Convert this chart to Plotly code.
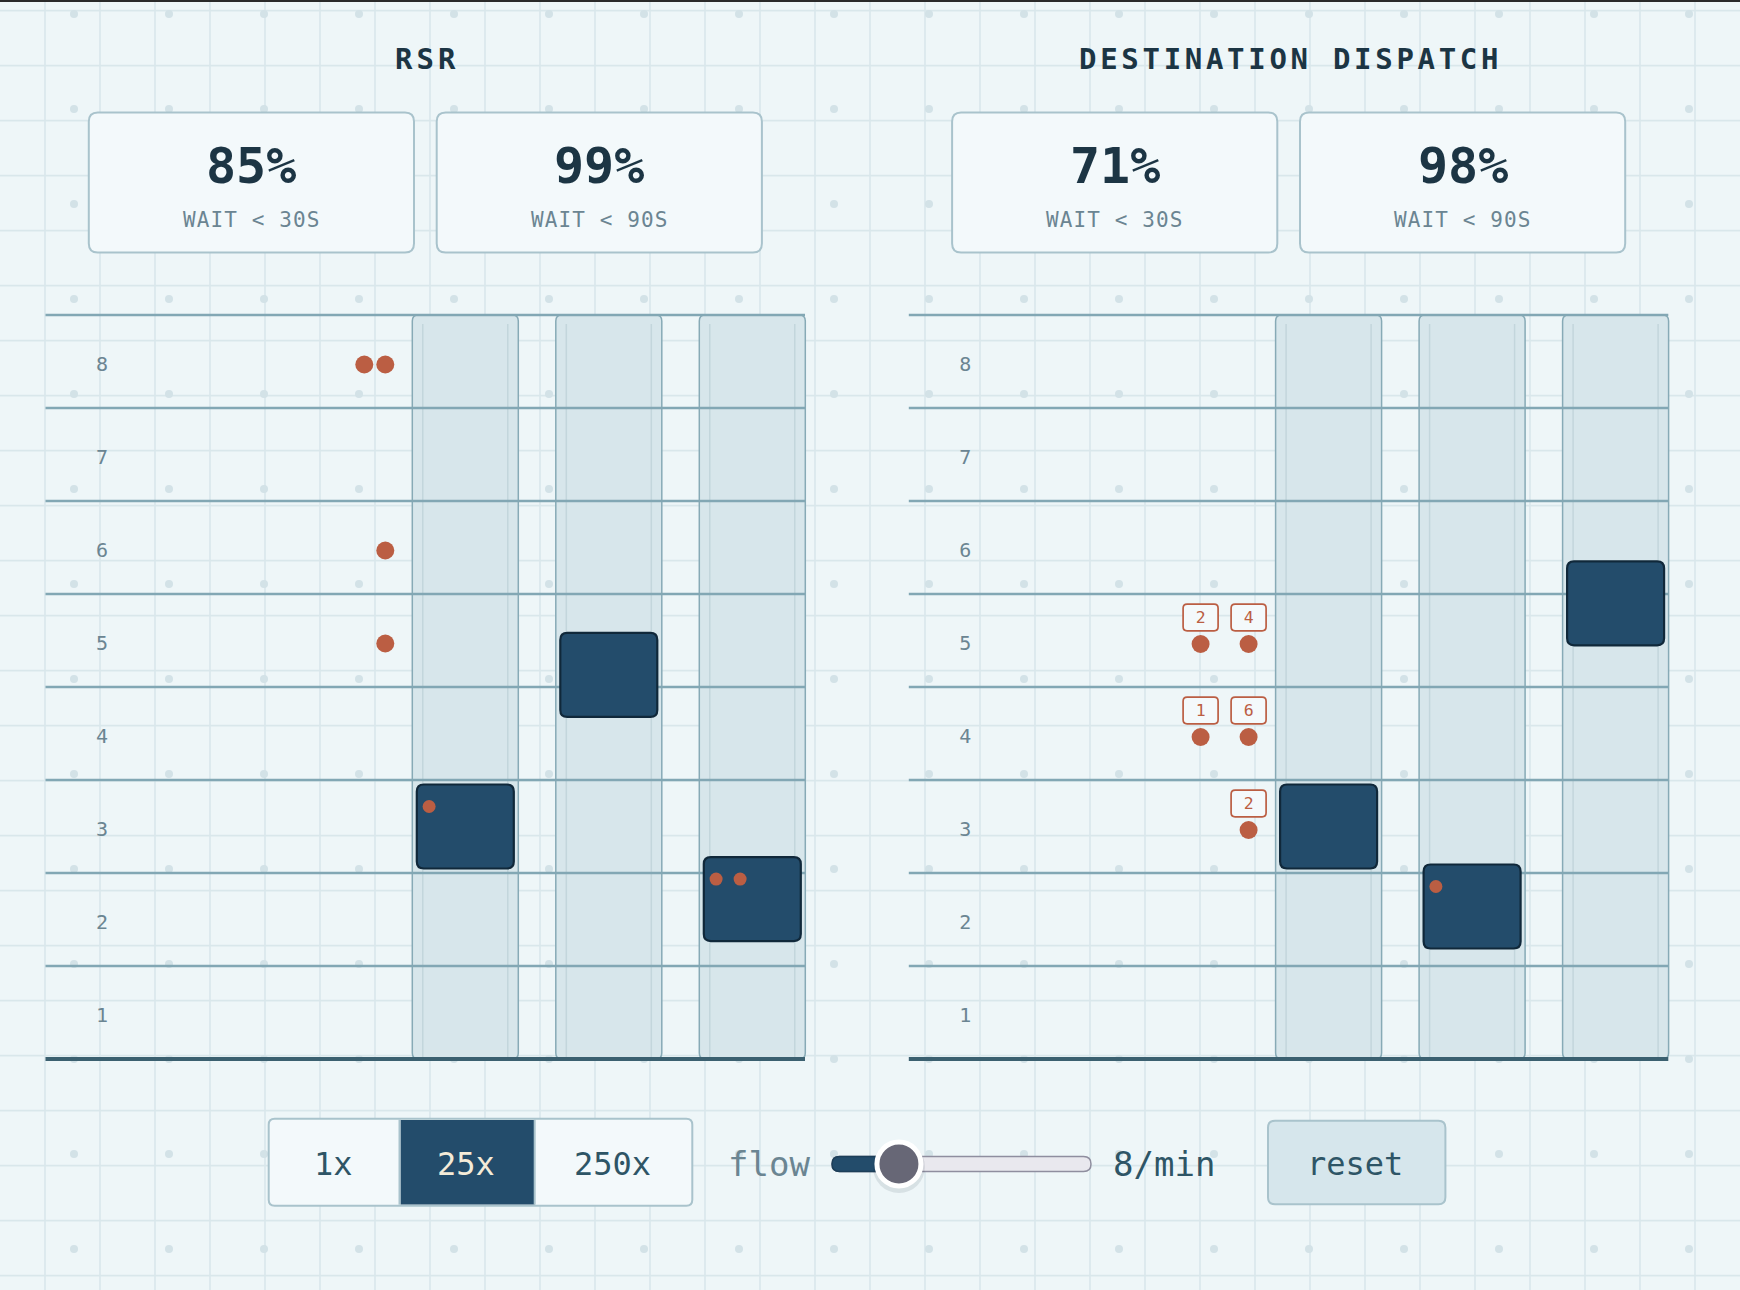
import plotly.graph_objects as go

# === Data ===
floors = [1, 2, 3, 4, 5, 6, 7, 8]
shafts = [1, 2, 3]

panel_titles = ["RSR", "DESTINATION DISPATCH"]
rsr_pct = [85, 99]
dd_pct = [71, 98]
wait_limits = [30, 90]

# car position in floors (fractional = between floors), riders inside
rsr_car_floor = [3.0, 4.63, 2.22]
rsr_car_riders = [1, 0, 2]
dd_car_floor = [3.0, 2.14, 5.40]
dd_car_riders = [0, 1, 0]

# waiting passengers
rsr_wait_floor = [8, 6, 5]
rsr_wait_count = [2, 1, 1]
dd_wait_floor = [5, 5, 4, 4, 3]
dd_wait_dest = [2, 4, 1, 6, 2]

speed_options = ["1x", "25x", "250x"]
speed_active = "25x"
flow_rate = 8
flow_min, flow_max = 2, 30

# === Style / layout ===
W, H = 1740, 1290
BG = "#eef6f8"
INK = "#1c3544"
MUTED = "#6b8592"
TEXT = "#2e5566"
NAVY = "#234c6b"
ORANGE = "#bb5e43"
BOX_FILL = "#f3f9fb"
BOX_LINE = "#a9c3cc"
FONT = "DejaVu Sans Mono"

PX_X = 143.5   # px per shaft pitch
PX_Y = 93.0    # px per floor
PANEL_LEFT = [45.5, 908.8]
PANEL_W = 759.5
B_TOP, B_BOT = 315, 1059
X_MIN = 1 - (465.3 - 45.5) / PX_X
X_MAX = X_MIN + PANEL_W / PX_X
PAD = 20


def fx(px):
    return px / W


def fy(py):
    return 1 - py / H


def rrect(x0, y0, x1, y1, rx, ry):
    return (f"M{x0 + rx},{y0} L{x1 - rx},{y0} Q{x1},{y0} {x1},{y0 + ry} "
            f"L{x1},{y1 - ry} Q{x1},{y1} {x1 - rx},{y1} L{x0 + rx},{y1} "
            f"Q{x0},{y1} {x0},{y1 - ry} L{x0},{y0 + ry} Q{x0},{y0} {x0 + rx},{y0} Z")


def spaced(txt, px):
    return f'<span style="letter-spacing:{px}px">{txt}</span>'


fig = go.Figure()
shapes = []
annotations = []

# === Background grid (pixel subplot) ===
px_ref = dict(xref="x", yref="y", layer="below")
gx = -10
while gx <= W:
    shapes.append(dict(type="line", x0=gx, x1=gx, y0=0, y1=H,
                       line=dict(color="#d9e7eb", width=1.6), **px_ref))
    gx += 55
gy = 10.7
while gy <= H:
    shapes.append(dict(type="line", x0=0, x1=W, y0=gy, y1=gy,
                       line=dict(color="#d9e7eb", width=1.8), **px_ref))
    gy += 55
dx = -21
while dx <= W + 10:
    dy = 14
    while dy <= H + 10:
        shapes.append(dict(type="circle", x0=dx - 4, x1=dx + 4, y0=dy - 4, y1=dy + 4,
                           fillcolor="#d3e2e7", line=dict(width=0), **px_ref))
        dy += 95
    dx += 95
shapes.append(dict(type="line", x0=0, x1=W, y0=1, y1=1,
                   line=dict(color="#2a2a2a", width=2), **px_ref))

fig.add_trace(go.Scatter(x=[None], y=[None], xaxis="x", yaxis="y", hoverinfo="skip"))

# === Titles and stat cards ===
title_spacing = [4, 3.7]
for p, (title, pcts) in enumerate(zip(panel_titles, [rsr_pct, dd_pct])):
    left = PANEL_LEFT[p]
    annotations.append(dict(x=left + PANEL_W / 2 + 1.5, y=59,
                            text=spaced(title, title_spacing[p]),
                            xref="x", yref="y", showarrow=False,
                            font=dict(family=FONT, size=29, color=INK, weight="bold")))
    for j, (pct, lim) in enumerate(zip(pcts, wait_limits)):
        bx0 = left + 43.3 + j * 347.9
        bx1 = bx0 + 325.2
        shapes.append(dict(type="path", path=rrect(bx0, 112.5, bx1, 252.5, 9, 9),
                           fillcolor=BOX_FILL, line=dict(color=BOX_LINE, width=2), **px_ref))
        cx = (bx0 + bx1) / 2
        annotations.append(dict(x=cx, y=166, text=f"{pct}%", xref="x", yref="y",
                                showarrow=False,
                                font=dict(family=FONT, size=50, color=INK, weight="bold")))
        annotations.append(dict(x=cx, y=220, text=spaced(f"WAIT &lt; {lim}S", 1.1),
                                xref="x", yref="y", showarrow=False,
                                font=dict(family=FONT, size=21, color=MUTED)))

# === Building panels ===
panel_data = [
    (rsr_car_floor, rsr_car_riders),
    (dd_car_floor, dd_car_riders),
]
for p, (car_floor, car_riders) in enumerate(panel_data):
    xa, ya = f"x{p + 2}", f"y{p + 2}"
    ref = dict(xref=xa, yref=ya, layer="below")
    for s in shafts:
        shapes.append(dict(type="path",
                           path=rrect(s - 53 / PX_X, 0.5, s + 53 / PX_X, 8.5, 6 / PX_X, 6 / PX_Y),
                           fillcolor="#d7e6eb", line=dict(color="#87aab6", width=1.5), **ref))
        for side in (-1, 1):
            shapes.append(dict(type="line", x0=s + side * 42.5 / PX_X, x1=s + side * 42.5 / PX_X,
                               y0=0.5, y1=8.5 - 9 / PX_Y,
                               line=dict(color="#c3d6dc", width=1.5), **ref))
    for f in floors:
        shapes.append(dict(type="line", x0=X_MIN, x1=X_MAX, y0=f + 0.5, y1=f + 0.5,
                           line=dict(color="#82a7b4", width=2.5), **ref))
    shapes.append(dict(type="line", x0=X_MIN, x1=X_MAX, y0=0.5, y1=0.5,
                       line=dict(color="#3b6070", width=4), **ref))
    hw, hh = 48.5 / PX_X, 42 / PX_Y
    rx_, ry_ = [], []
    for s, f, n in zip(shafts, car_floor, car_riders):
        shapes.append(dict(type="path",
                           path=rrect(s - hw, f - hh, s + hw, f + hh, 7 / PX_X, 7 / PX_Y),
                           fillcolor=NAVY, line=dict(color="#10283a", width=2.2), **ref))
        for i in range(n):
            rx_.append(s - hw + (12.3 + 24 * i) / PX_X)
            ry_.append(f + hh - 22 / PX_Y)

    # floor labels
    fig.add_trace(go.Scatter(
        x=[X_MIN + 56.5 / PX_X] * len(floors), y=[f - 4 / PX_Y for f in floors], mode="text",
        text=[str(f) for f in floors], textposition="middle center",
        textfont=dict(family=FONT, size=20, color=MUTED),
        xaxis=xa, yaxis=ya, hoverinfo="skip", cliponaxis=False))

    # riders inside cars
    fig.add_trace(go.Scatter(
        x=rx_, y=ry_, mode="markers",
        marker=dict(size=13, color=ORANGE, line=dict(width=0)),
        xaxis=xa, yaxis=ya, hoverinfo="skip", cliponaxis=False))

# waiting passengers, RSR: tight queue next to the shafts
slot = 1 - 80 / PX_X
wx, wy = [], []
for f, n in zip(rsr_wait_floor, rsr_wait_count):
    for i in range(n):
        wx.append(slot - (21 / PX_X) * (n - 1 - i))
        wy.append(f - 3 / PX_Y)
fig.add_trace(go.Scatter(x=wx, y=wy, mode="markers",
                         marker=dict(size=18, color=ORANGE, line=dict(width=0)),
                         xaxis="x2", yaxis="y2", hoverinfo="skip", cliponaxis=False))

# waiting passengers, destination dispatch: each with a destination tag
dx_, dy_, tx_, ty_, badge_text = [], [], [], [], []
for f in sorted(set(dd_wait_floor), reverse=True):
    dests = [d for ff, d in zip(dd_wait_floor, dd_wait_dest) if ff == f]
    n = len(dests)
    for i, d in enumerate(dests):
        x = slot - (48 / PX_X) * (n - 1 - i)
        dx_.append(x)
        dy_.append(f - 3.5 / PX_Y)
        tx_.append(x)
        ty_.append(f + 22 / PX_Y)
        badge_text.append(str(d))
        shapes.append(dict(type="path",
                           path=rrect(x - 17.5 / PX_X, f + 23 / PX_Y - 13.3 / PX_Y,
                                      x + 17.5 / PX_X, f + 23 / PX_Y + 13.3 / PX_Y,
                                      4 / PX_X, 4 / PX_Y),
                           fillcolor="#f4f9fb", line=dict(color=ORANGE, width=1.7),
                           xref="x3", yref="y3", layer="below"))
fig.add_trace(go.Scatter(x=dx_, y=dy_, mode="markers",
                         marker=dict(size=18, color=ORANGE, line=dict(width=0)),
                         xaxis="x3", yaxis="y3", hoverinfo="skip", cliponaxis=False))
fig.add_trace(go.Scatter(x=tx_, y=ty_, mode="text", text=badge_text,
                         textposition="middle center",
                         textfont=dict(family=FONT, size=16.5, color=ORANGE),
                         xaxis="x3", yaxis="y3", hoverinfo="skip", cliponaxis=False))

# === Controls ===
seg_edges = [268.7, 399.5, 534.7, 692.3]
shapes.append(dict(type="path", path=rrect(seg_edges[0], 1118.7, seg_edges[-1], 1205.7, 6, 6),
                   fillcolor=BOX_FILL, line=dict(color=BOX_LINE, width=2), **px_ref))
for i, opt in enumerate(speed_options):
    a, b = seg_edges[i], seg_edges[i + 1]
    active = opt == speed_active
    if active:
        shapes.append(dict(type="rect", x0=a + 1, x1=b, y0=1120, y1=1204.5,
                           fillcolor=NAVY, line=dict(width=0), **px_ref))
    if i > 0:
        shapes.append(dict(type="line", x0=a, x1=a, y0=1119.7, y1=1204.7,
                           line=dict(color=BOX_LINE, width=2), **px_ref))
    annotations.append(dict(x=(a + b) / 2 - 1, y=1164, text=opt, xref="x", yref="y",
                            showarrow=False,
                            font=dict(family=FONT, size=32,
                                      color="#f4ebd8" if active else TEXT)))

annotations.append(dict(x=769, y=1164, text="flow", xref="x", yref="y", showarrow=False,
                        font=dict(family=FONT, size=34, color=MUTED)))
annotations.append(dict(x=1163.5, y=1164, text=f"{flow_rate}/min", xref="x", yref="y",
                        showarrow=False, font=dict(family=FONT, size=34, color=TEXT)))

shapes.append(dict(type="path", path=rrect(1268, 1120.7, 1445.4, 1204.3, 7, 7),
                   fillcolor="#d6e6ec", line=dict(color=BOX_LINE, width=2), **px_ref))
annotations.append(dict(x=1355, y=1164, text="reset", xref="x", yref="y", showarrow=False,
                        font=dict(family=FONT, size=32, color=TEXT)))

# slider on its own axis
ppu = (1091 - 832 - 40) / (flow_max - flow_min)
t0, t1 = flow_min - 20 / ppu, flow_max + 20 / ppu
sref = dict(xref="x4", yref="y4", layer="below")
shapes.append(dict(type="path", path=rrect(t0, -7.5, t1, 7.5, 7.5 / ppu, 7.5),
                   fillcolor="#e9e8ee", line=dict(color="#8f8e9f", width=1.5), **sref))
shapes.append(dict(type="path", path=rrect(t0, -7.5, flow_rate, 7.5, 7.5 / ppu, 7.5),
                   fillcolor=NAVY, line=dict(color="#1d3f59", width=1.5), **sref))
fig.add_trace(go.Scatter(x=[flow_rate], y=[-3], mode="markers",
                         marker=dict(size=52, color="rgba(20,40,60,0.10)", line=dict(width=0)),
                         xaxis="x4", yaxis="y4", hoverinfo="skip", cliponaxis=False))
fig.add_trace(go.Scatter(x=[flow_rate], y=[0], mode="markers",
                         marker=dict(size=44, color="#676776", line=dict(color="white", width=5)),
                         xaxis="x4", yaxis="y4", hoverinfo="skip", cliponaxis=False))

# === Axes ===
ax_off = dict(visible=False, fixedrange=True, showgrid=False, zeroline=False)
layout_axes = dict(
    xaxis=dict(domain=[0, 1], range=[0, W], **ax_off),
    yaxis=dict(domain=[0, 1], range=[H, 0], **ax_off),
    xaxis4=dict(domain=[fx(822), fx(1101)],
                range=[flow_min - 30 / ppu, flow_max + 30 / ppu], anchor="y4", **ax_off),
    yaxis4=dict(domain=[fy(1194), fy(1134)], range=[-30, 30], anchor="x4", **ax_off),
)
for p in range(2):
    left = PANEL_LEFT[p]
    layout_axes[f"xaxis{p + 2}"] = dict(
        domain=[fx(left - PAD), fx(left + PANEL_W + PAD)],
        range=[X_MIN - PAD / PX_X, X_MAX + PAD / PX_X], anchor=f"y{p + 2}", **ax_off)
    layout_axes[f"yaxis{p + 2}"] = dict(
        domain=[fy(B_BOT + PAD), fy(B_TOP - PAD)],
        range=[0.5 - PAD / PX_Y, 8.5 + PAD / PX_Y], anchor=f"x{p + 2}", **ax_off)

fig.update_layout(
    width=W, height=H,
    margin=dict(l=0, r=0, t=0, b=0, pad=0),
    paper_bgcolor=BG, plot_bgcolor="rgba(0,0,0,0)",
    showlegend=False, hovermode=False,
    font=dict(family=FONT),
    shapes=shapes, annotations=annotations,
    **layout_axes,
)

fig.write_html("out.html", config={"displayModeBar": False},
               post_script="document.body.style.margin='0';document.body.style.background='%s';" % BG)
